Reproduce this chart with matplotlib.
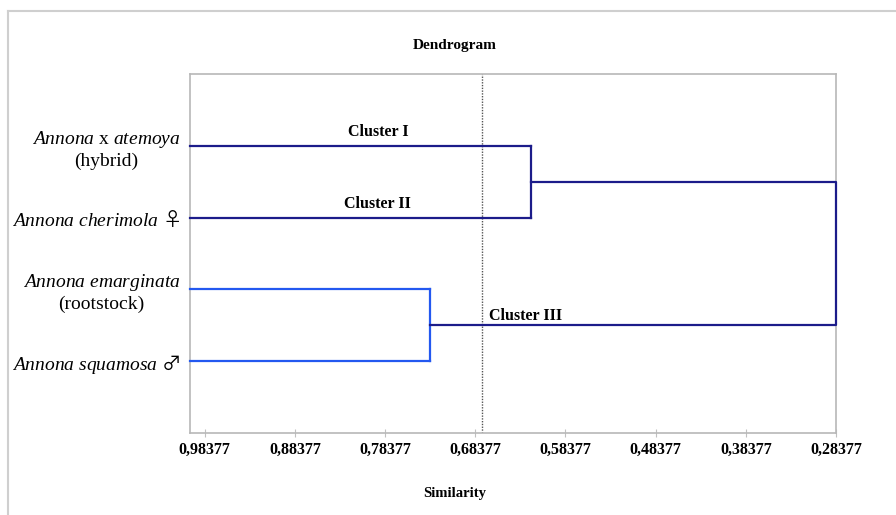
import matplotlib.pyplot as plt
from matplotlib.lines import Line2D

plt.rcParams['mathtext.fontset'] = 'custom'
plt.rcParams['mathtext.it'] = 'Liberation Serif:italic'
plt.rcParams['mathtext.rm'] = 'Liberation Serif'
plt.rcParams['mathtext.sf'] = 'Noto Sans CJK JP'
serif = ['Liberation Serif', 'DejaVu Serif']

# --- data ---
leaf_labels = [
    r'$\mathit{Annona}$ x $\mathit{atemoya}$' + '\n(hybrid)',
    r'$\mathit{Annona\ cherimola}\ \mathsf{♀}$',
    r'$\mathit{Annona\ emarginata}$' + '\n(rootstock)',
    r'$\mathit{Annona\ squamosa}\ \mathsf{♂}$',
]
leaf_pos = [1, 2, 3, 4]
leaf_sim = 1.0
merge_I_II = 0.622      # atemoya + cherimola
merge_III = 0.734       # emarginata + squamosa
merge_root = 0.28377
cut_level = 0.6767
tick_vals = [0.98377, 0.88377, 0.78377, 0.68377, 0.58377, 0.48377, 0.38377, 0.28377]
cluster_names = ['Cluster I', 'Cluster II', 'Cluster III']

navy = '#1c1c8a'
blue = '#2358f0'
lw = 1.6

fig = plt.figure(figsize=(8.96, 5.15), dpi=100)
ax = fig.add_axes([190 / 896, 1 - 433 / 515, 646 / 896, 359 / 515])

# top pair
y_top = (leaf_pos[0] + leaf_pos[1]) / 2
for y in leaf_pos[:2]:
    ax.plot([leaf_sim, merge_I_II], [y, y], color=navy, lw=lw, zorder=3, clip_on=False)
ax.plot([merge_I_II, merge_I_II], [leaf_pos[0], leaf_pos[1]], color=navy, lw=lw, zorder=3)

# bottom pair
y_bot = (leaf_pos[2] + leaf_pos[3]) / 2
for y in leaf_pos[2:]:
    ax.plot([leaf_sim, merge_III], [y, y], color=blue, lw=lw, zorder=3, clip_on=False)
ax.plot([merge_III, merge_III], [leaf_pos[2], leaf_pos[3]], color=blue, lw=lw, zorder=3)

# root
ax.plot([merge_I_II, merge_root, merge_root, merge_III],
        [y_top, y_top, y_bot, y_bot], color=navy, lw=lw, zorder=3, clip_on=False)

ax.axvline(cut_level, color='#555555', lw=1, ls=(0, (1, 1)))

ax.text(0.7916, leaf_pos[0] - 0.08, cluster_names[0], ha='center', va='bottom',
        family=serif, fontweight='bold', fontsize=11.5)
ax.text(0.7927, leaf_pos[1] - 0.08, cluster_names[1], ha='center', va='bottom',
        family=serif, fontweight='bold', fontsize=11.5)
ax.text(0.6685, y_bot - 0.02, cluster_names[2], ha='left', va='bottom',
        family=serif, fontweight='bold', fontsize=11.5)

ax.set_xlim(1.0, 0.28377)
ax.set_ylim(5, 0)
ax.set_xticks(tick_vals)
ax.set_xticklabels([f'{v:.5f}'.replace('.', ',') for v in tick_vals],
                   family=serif, fontweight='bold', fontsize=11.5)
ax.tick_params(axis='x', direction='inout', length=6, color='#c0c0c0', pad=3.5)
ax.set_yticks(leaf_pos)
ax.set_yticklabels(leaf_labels, family=serif, fontsize=14, multialignment='center')
ax.tick_params(axis='y', length=0, pad=7)
for s in ax.spines.values():
    s.set_color('#b8b8b8')
    s.set_linewidth(1.2)

fig.text(455 / 896, 1 - 45 / 515, 'Dendrogram', ha='center', va='center',
         family=serif, fontweight='bold', fontsize=11)
fig.text(455 / 896, 1 - 493 / 515, 'Similarity', ha='center', va='center',
         family=serif, fontweight='bold', fontsize=10.5)

# outer frame
fig.add_artist(Line2D([8 / 896, 1], [1 - 11 / 515, 1 - 11 / 515], color='#cfcfcf', lw=1.5))
fig.add_artist(Line2D([8 / 896, 8 / 896], [0, 1 - 11 / 515], color='#cfcfcf', lw=1.5))

fig.savefig('out.png', dpi=100)
